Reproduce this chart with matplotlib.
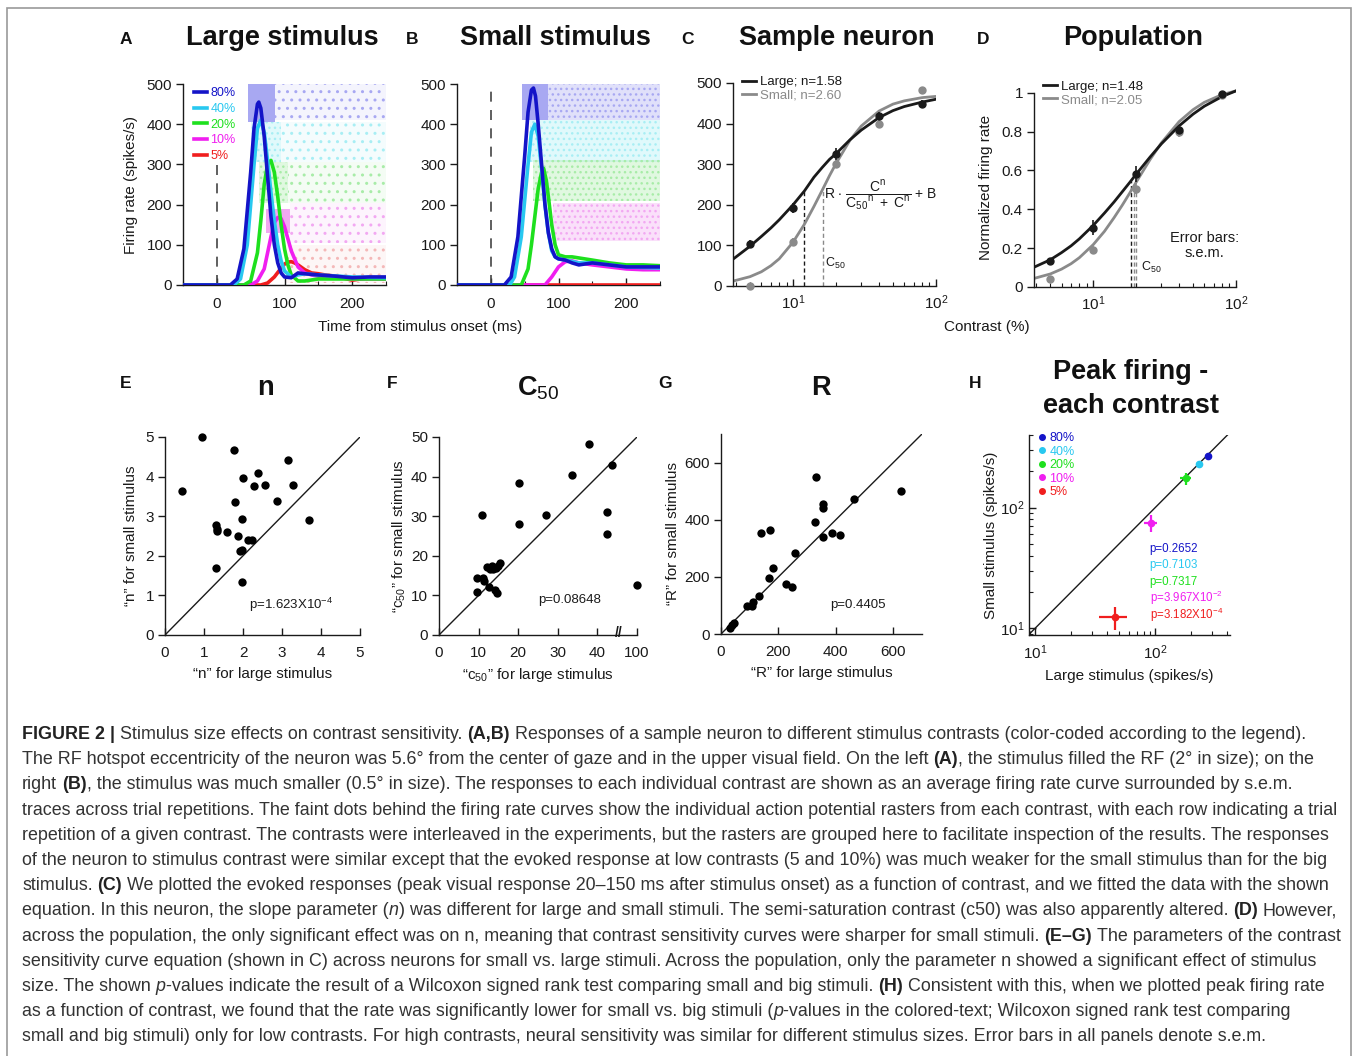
"""
Figure 2 recreation: stimulus size effects on contrast sensitivity.
Panels A-H plus the caption block underneath.
"""

import matplotlib
matplotlib.use("Agg")
import matplotlib.pyplot as plt
from matplotlib.lines import Line2D
from matplotlib.patches import Rectangle
from matplotlib.colors import to_rgba
from matplotlib.font_manager import FontProperties
from matplotlib.ticker import FixedLocator, NullFormatter, LogLocator

plt.rcParams["font.family"] = ["Liberation Sans", "DejaVu Sans"]
plt.rcParams["mathtext.fontset"] = "custom"
plt.rcParams["mathtext.rm"] = "Liberation Sans"
plt.rcParams["mathtext.it"] = "Liberation Sans:italic"
plt.rcParams["mathtext.bf"] = "Liberation Sans:bold"
plt.rcParams["hatch.linewidth"] = 1.0

W, H = 1358, 1056

# ---------------- data ----------------
CONTRAST_LABELS = ["80%", "40%", "20%", "10%", "5%"]
COLORS = ["#1414c8", "#28c8f0", "#1ee01e", "#f01ef0", "#f01e1e"]
RASTER_COLORS = ["#a8a8f2", "#a8eef4", "#a8eca8", "#f2a8f2", "#f4b8b8"]

# A: large stimulus, firing rate (spikes/s) vs time (ms)
LARGE_TIMES = [
    [-50, 20, 30, 40, 50, 55, 60, 62, 65, 70, 75, 80, 85, 90, 95, 100, 110, 120, 130, 150, 175, 200, 225, 250],
    [-50, 25, 35, 45, 55, 60, 65, 70, 75, 80, 85, 90, 95, 100, 110, 120, 130, 150, 200, 250],
    [-50, 40, 50, 60, 65, 70, 75, 80, 85, 90, 95, 100, 105, 110, 120, 130, 150, 200, 250],
    [-50, 50, 60, 70, 80, 85, 90, 95, 100, 105, 110, 120, 130, 140, 150, 175, 200, 250],
    [-50, 65, 75, 85, 95, 100, 105, 110, 115, 120, 130, 140, 150, 160, 175, 200, 225, 250],
]
LARGE_RATES = [
    [0, 0, 15, 90, 280, 390, 450, 455, 440, 370, 270, 170, 100, 55, 30, 20, 18, 30, 28, 25, 22, 18, 20, 20],
    [0, 0, 15, 100, 300, 390, 410, 380, 310, 230, 160, 100, 60, 35, 20, 25, 28, 25, 20, 18],
    [0, 0, 10, 80, 160, 250, 300, 310, 280, 220, 150, 90, 50, 25, 10, 10, 15, 15, 15],
    [0, 0, 10, 40, 120, 155, 168, 165, 145, 115, 85, 45, 30, 25, 22, 20, 15, 15],
    [0, 0, 5, 20, 42, 52, 57, 58, 55, 50, 38, 30, 28, 25, 22, 12, 18, 18],
]

# B: small stimulus
SMALL_TIMES = [
    [-50, 20, 30, 40, 50, 55, 60, 63, 66, 70, 75, 80, 85, 90, 95, 100, 110, 120, 130, 150, 175, 200, 225, 250],
    [-50, 28, 35, 45, 55, 60, 65, 70, 75, 80, 85, 90, 95, 100, 110, 130, 150, 175, 200, 250],
    [-50, 45, 55, 60, 65, 70, 75, 78, 82, 85, 90, 95, 100, 110, 120, 150, 175, 200, 225, 250],
    [-50, 80, 90, 100, 110, 120, 130, 150, 175, 200, 225, 250],
    [-50, 250],
]
SMALL_RATES = [
    [0, 0, 20, 120, 320, 430, 485, 490, 470, 400, 300, 200, 130, 90, 70, 65, 62, 55, 50, 55, 50, 45, 45, 45],
    [0, 0, 20, 120, 300, 380, 400, 370, 290, 200, 130, 85, 70, 65, 62, 55, 55, 50, 45, 42],
    [0, 0, 40, 100, 170, 240, 280, 290, 260, 220, 150, 100, 75, 70, 70, 62, 55, 50, 50, 48],
    [0, 0, 20, 45, 58, 60, 55, 50, 45, 40, 38, 38],
    [0, 0],
]

# raster bands: (contrast index, t start, t end, row low, row high, density)
LARGE_RASTER = [
    (0, 46, 86, 405, 500, "solid"), (0, 86, 250, 410, 500, "sparse"),
    (1, 50, 95, 305, 405, "dense"), (1, 95, 250, 305, 405, "sparse"),
    (2, 62, 105, 205, 305, "dense"), (2, 105, 250, 205, 305, "sparse"),
    (3, 72, 108, 130, 190, "solid"), (3, 108, 250, 105, 205, "sparse"),
    (4, 100, 250, 5, 100, "sparse"),
]
SMALL_RASTER = [
    (0, 46, 85, 410, 500, "solid"), (0, 85, 250, 410, 500, "dense"),
    (1, 58, 250, 305, 410, "dense"),
    (2, 63, 250, 210, 310, "dense"),
    (3, 92, 250, 110, 205, "dense"),
]

# C: sample neuron, peak response vs contrast
CONTRAST_PTS = [5, 10, 20, 40, 80]
C_LARGE_PTS = [104, 192, 325, 418, 449]
C_SMALL_PTS = [0, 109, 301, 400, 482]
C_LARGE_ERR = [10, 12, 14, 10, 10]
C_SMALL_ERR = [6, 8, 10, 10, 8]
FIT_X = [3.8, 5, 6, 7, 8, 10, 12, 14, 16, 18, 20, 25, 30, 40, 50, 60, 80, 100]
C_LARGE_FIT = [66, 98, 122, 143, 163, 200, 234, 268, 292, 312, 326, 360, 384, 415, 432, 442, 453, 460]
C_SMALL_FIT = [12, 23, 35, 50, 67, 108, 152, 196, 236, 272, 302, 359, 394, 431, 448, 456, 464, 467]
C_C50 = [12.0, 16.1]
C_C50_HEIGHT = [234, 236]

# D: population, normalized response
D_LARGE_PTS = [0.134, 0.306, 0.581, 0.81, 0.993]
D_SMALL_PTS = [0.043, 0.19, 0.507, 0.80, 0.99]
D_LARGE_ERR = [0.015, 0.04, 0.04, 0.02, 0.01]
D_SMALL_ERR = [0.015, 0.02, 0.03, 0.03, 0.01]
D_LARGE_FIT = [0.10, 0.14, 0.177, 0.212, 0.248, 0.317, 0.381, 0.438, 0.491, 0.538, 0.581, 0.669, 0.737,
               0.830, 0.890, 0.931, 0.981, 1.01]
D_SMALL_FIT = [0.043, 0.067, 0.092, 0.120, 0.151, 0.218, 0.287, 0.357, 0.422, 0.483, 0.540, 0.656, 0.742,
               0.852, 0.913, 0.951, 0.991, 1.01]
D_C50 = [18.4, 19.3, 20.0]
D_C50_HEIGHT = [0.547, 0.52, 0.52]

# E: n
E_LARGE = [0.43, 0.96, 1.77, 3.16, 2.39, 1.99, 2.28, 2.56, 3.29, 1.80, 2.86, 3.68, 1.98, 1.31, 1.33,
           1.34, 1.60, 1.88, 2.13, 2.24, 1.93, 1.98, 1.30, 1.98]
E_SMALL = [3.63, 5.0, 4.66, 4.43, 4.10, 3.97, 3.77, 3.79, 3.79, 3.36, 3.39, 2.90, 2.92, 2.78, 2.68,
           2.62, 2.60, 2.50, 2.40, 2.41, 2.13, 2.14, 1.70, 1.33]

# F: c50 (the 100 value sits past the axis break)
F_LARGE = [9.5, 9.5, 11.2, 11.3, 10.8, 12.2, 12.9, 13.3, 13.7, 14.4, 15.3, 15.0, 12.7, 14.2, 14.6,
           20.3, 20.3, 26.9, 33.5, 37.9, 43.6, 42.5, 42.5, 100]
F_SMALL = [10.8, 14.5, 14.3, 13.7, 30.2, 17.1, 16.6, 17.3, 16.6, 16.9, 18.3, 17.5, 12.2, 11.4, 10.5,
           38.4, 28.1, 30.4, 40.3, 48.3, 43.0, 31.1, 25.5, 12.6]
F_TICKS = [0, 10, 20, 30, 40, 100]

# G: R
G_LARGE = [33, 38, 45, 92, 107, 113, 133, 140, 171, 167, 182, 225, 246, 257, 328, 330, 355, 355, 355,
           388, 413, 463, 627]
G_SMALL = [22, 30, 38, 97, 99, 112, 134, 352, 364, 195, 230, 176, 164, 285, 393, 548, 455, 440, 341,
           352, 347, 472, 500]

# H: peak firing per contrast
H_LARGE = [275, 232, 180, 92, 46]
H_SMALL = [268, 232, 175, 75, 12.3]
H_XERR = [15, 12, 18, 12, 12]
H_YERR = [15, 12, 20, 12, 2.7]
H_PVALS = ["p=0.2652", "p=0.7103", "p=0.7317", "p=3.967X10$^{-2}$", "p=3.182X10$^{-4}$"]

CAPTION = [
    [("FIGURE 2 |", "b"), (" Stimulus size effects on contrast sensitivity. ", "r"), ("(A,B)", "b"),
     (" Responses of a sample neuron to different stimulus contrasts (color-coded according to the legend).", "r")],
    [("The RF hotspot eccentricity of the neuron was 5.6° from the center of gaze and in the upper visual field. On the left ", "r"),
     ("(A)", "b"), (", the stimulus filled the RF (2° in size); on the", "r")],
    [("right ", "r"), ("(B)", "b"),
     (", the stimulus was much smaller (0.5° in size). The responses to each individual contrast are shown as an average firing rate curve surrounded by s.e.m.", "r")],
    [("traces across trial repetitions. The faint dots behind the firing rate curves show the individual action potential rasters from each contrast, with each row indicating a trial", "r")],
    [("repetition of a given contrast. The contrasts were interleaved in the experiments, but the rasters are grouped here to facilitate inspection of the results. The responses", "r")],
    [("of the neuron to stimulus contrast were similar except that the evoked response at low contrasts (5 and 10%) was much weaker for the small stimulus than for the big", "r")],
    [("stimulus. ", "r"), ("(C)", "b"),
     (" We plotted the evoked responses (peak visual response 20–150 ms after stimulus onset) as a function of contrast, and we fitted the data with the shown", "r")],
    [("equation. In this neuron, the slope parameter (", "r"), ("n", "i"),
     (") was different for large and small stimuli. The semi-saturation contrast (c50) was also apparently altered. ", "r"),
     ("(D)", "b"), (" However,", "r")],
    [("across the population, the only significant effect was on n, meaning that contrast sensitivity curves were sharper for small stimuli. ", "r"),
     ("(E–G)", "b"), (" The parameters of the contrast", "r")],
    [("sensitivity curve equation (shown in C) across neurons for small vs. large stimuli. Across the population, only the parameter n showed a significant effect of stimulus", "r")],
    [("size. The shown ", "r"), ("p", "i"),
     ("-values indicate the result of a Wilcoxon signed rank test comparing small and big stimuli. ", "r"),
     ("(H)", "b"), (" Consistent with this, when we plotted peak firing rate", "r")],
    [("as a function of contrast, we found that the rate was significantly lower for small vs. big stimuli (", "r"),
     ("p", "i"), ("-values in the colored-text; Wilcoxon signed rank test comparing", "r")],
    [("small and big stimuli) only for low contrasts. For high contrasts, neural sensitivity was similar for different stimulus sizes. Error bars in all panels denote s.e.m.", "r")],
]

INK = "#1a1a1a"
GRAY = "#8a8a8a"
TICK_SIZE = 11


def add_axes_px(fig, x0, x1, y0, y1):
    return fig.add_axes([x0 / W, 1 - y1 / H, (x1 - x0) / W, (y1 - y0) / H])


def style_axes(ax, xdir="in", ydir="out"):
    for side in ["top", "right"]:
        ax.spines[side].set_visible(False)
    for side in ["left", "bottom"]:
        ax.spines[side].set_color(INK)
        ax.spines[side].set_linewidth(1.0)
    ax.set_facecolor("none")
    ax.tick_params(axis="x", which="both", direction=xdir, labelsize=TICK_SIZE, colors=INK, pad=8)
    ax.tick_params(axis="y", which="both", direction=ydir, labelsize=TICK_SIZE, colors=INK, pad=3)
    ax.tick_params(which="major", length=5, width=1)
    ax.tick_params(which="minor", length=3, width=0.8)


def draw_raster(ax, bands):
    for ci, t0, t1, y0, y1, kind in bands:
        c = RASTER_COLORS[ci]
        if kind == "solid":
            patch = Rectangle((t0, y0), t1 - t0, y1 - y0, facecolor=c, edgecolor="none", zorder=1)
        elif kind == "dense":
            patch = Rectangle((t0, y0), t1 - t0, y1 - y0, facecolor=to_rgba(c, 0.35),
                              edgecolor=c, hatch="...", linewidth=0, zorder=1)
        else:
            patch = Rectangle((t0, y0), t1 - t0, y1 - y0, facecolor=to_rgba(c, 0.12),
                              edgecolor=c, hatch="..", linewidth=0, zorder=1)
        ax.add_patch(patch)


def firing_panel(ax, times, rates, raster, show_legend):
    draw_raster(ax, raster)
    ax.axvline(0, color="#444444", lw=1.2, ls=(0, (6, 5)), zorder=2)
    for i in reversed(range(len(times))):
        ax.plot(times[i], rates[i], color=COLORS[i], lw=2.6, zorder=3, solid_joinstyle="round")
    ax.set_xlim(-50, 250)
    ax.set_ylim(0, 500)
    ax.set_xticks([0, 100, 200])
    ax.xaxis.set_minor_locator(FixedLocator([-50, 50, 150, 250]))
    ax.set_yticks([0, 100, 200, 300, 400, 500])
    style_axes(ax)
    ax.tick_params(axis="x", pad=9)
    if show_legend:
        handles = [Line2D([], [], color=c, lw=2.6) for c in COLORS]
        leg = ax.legend(handles, CONTRAST_LABELS, loc="upper left", bbox_to_anchor=(0.04, 1.0),
                        fontsize=9, handlelength=1.0, handletextpad=0.3, labelspacing=0.3,
                        borderpad=0.25, borderaxespad=0, frameon=True, framealpha=1)
        leg.get_frame().set_edgecolor("none")
        leg.get_frame().set_facecolor("white")
        for txt, c in zip(leg.get_texts(), COLORS):
            txt.set_color(c)


def contrast_panel(ax, large_pts, small_pts, large_err, small_err, large_fit, small_fit,
                   c50s, c50_heights, labels, ylim):
    ax.set_xscale("log")
    ax.plot(FIT_X, small_fit, color=GRAY, lw=2, zorder=2)
    ax.plot(FIT_X, large_fit, color=INK, lw=2, zorder=3)
    ax.errorbar(CONTRAST_PTS, small_pts, yerr=small_err, fmt="o", ms=5, color=GRAY,
                elinewidth=1.2, capsize=0, zorder=4, clip_on=False)
    ax.errorbar(CONTRAST_PTS, large_pts, yerr=large_err, fmt="o", ms=5, color=INK,
                elinewidth=1.2, capsize=0, zorder=5, clip_on=False)
    dash_colors = [INK] + [GRAY] * (len(c50s) - 1)
    for x, h, c in zip(c50s, c50_heights, dash_colors):
        ax.plot([x, x], [0, h], color=c, lw=1.0, ls=(0, (3, 2)), zorder=1)
    handles = [Line2D([], [], color=INK, lw=2), Line2D([], [], color=GRAY, lw=2)]
    leg = ax.legend(handles, labels, loc="upper left", bbox_to_anchor=(0.04, 1.04), fontsize=9.5,
                    handlelength=1.0, handletextpad=0.3, labelspacing=0.1, borderpad=0.1,
                    borderaxespad=0, frameon=False)
    for txt, c in zip(leg.get_texts(), [INK, GRAY]):
        txt.set_color(c)
    ax.set_ylim(*ylim)
    ax.xaxis.set_major_locator(FixedLocator([10, 100]))
    ax.xaxis.set_minor_locator(LogLocator(base=10, subs=range(2, 10)))
    ax.xaxis.set_minor_formatter(NullFormatter())
    ax.set_xticklabels(["10$^1$", "10$^2$"])
    style_axes(ax)
    ax.tick_params(axis="x", pad=5)


def scatter_panel(ax, xs, ys, lim, ticks):
    ax.plot([0, lim], [0, lim], color=INK, lw=1.0, zorder=1)
    ax.scatter(xs, ys, s=36, color="black", zorder=3, clip_on=False, linewidths=0)
    ax.set_xlim(0, lim)
    ax.set_ylim(0, lim)
    ax.set_xticks(ticks)
    ax.set_yticks(ticks)
    style_axes(ax)


def draw_caption(fig, lines, x0, y0, step, target_width):
    renderer = fig.canvas.get_renderer()

    def props(style, size):
        return FontProperties(family="Liberation Sans", size=size,
                              weight="bold" if style == "b" else "normal",
                              style="italic" if style == "i" else "normal")

    def advance(s, prop):
        w1 = renderer.get_text_width_height_descent("x" + s + "x", prop, ismath=False)[0]
        w0 = renderer.get_text_width_height_descent("xx", prop, ismath=False)[0]
        return w1 - w0

    ref = sum(advance(s, props(st, 10)) for s, st in lines[0])
    size = 10 * target_width / ref
    for i, parts in enumerate(lines):
        x = x0
        y = y0 + i * step
        for s, st in parts:
            prop = props(st, size)
            lead = len(s) - len(s.lstrip(" "))
            xd = x + (advance(s[:lead], prop) if lead else 0)
            fig.text(xd / W, 1 - y / H, s.strip(" "), fontproperties=prop,
                     color="#222222" if st == "b" else "#333333", ha="left", va="baseline")
            x += advance(s, prop)


def main():
    fig = plt.figure(figsize=(W / 100, H / 100), dpi=100)
    fig.patch.set_facecolor("white")
    fig.add_artist(Rectangle((7 / W, -0.01), (1351 - 7) / W, 1.01 - 8 / H, transform=fig.transFigure,
                             fill=False, edgecolor="#999999", lw=1.2))

    # ---- row 1 ----
    ax_a = add_axes_px(fig, 183, 386, 84, 285)
    firing_panel(ax_a, LARGE_TIMES, LARGE_RATES, LARGE_RASTER, True)
    ax_a.set_ylabel("Firing rate (spikes/s)", fontsize=11, color=INK, labelpad=6)

    ax_b = add_axes_px(fig, 457, 660, 84, 285)
    firing_panel(ax_b, SMALL_TIMES, SMALL_RATES, SMALL_RASTER, False)

    fig.text(420 / W, 1 - 327 / H, "Time from stimulus onset (ms)", fontsize=11, color=INK,
             ha="center", va="center")

    ax_c = add_axes_px(fig, 733, 936, 83, 286)
    contrast_panel(ax_c, C_LARGE_PTS, C_SMALL_PTS, C_LARGE_ERR, C_SMALL_ERR, C_LARGE_FIT, C_SMALL_FIT,
                   C_C50, C_C50_HEIGHT, ["Large; n=1.58", "Small; n=2.60"], (0, 500))
    ax_c.set_xlim(3.8, 100)
    ax_c.set_yticks([0, 100, 200, 300, 400, 500])
    ax_c.text(41, 224,
              r"R $\bullet$ $\dfrac{\mathrm{C}^{\mathrm{n}}}{\mathrm{C}_{50}{}^{\mathrm{n}}\ +\ \mathrm{C}^{\mathrm{n}}}$ + B",
              fontsize=10, color=INK, ha="center", va="center")
    ax_c.text(16.8, 55, "C$_{50}$", fontsize=9, color=INK, ha="left", va="center")

    ax_d = add_axes_px(fig, 1034, 1236, 87, 287)
    contrast_panel(ax_d, D_LARGE_PTS, D_SMALL_PTS, D_LARGE_ERR, D_SMALL_ERR, D_LARGE_FIT, D_SMALL_FIT,
                   D_C50, D_C50_HEIGHT, ["Large; n=1.48", "Small; n=2.05"], (0, 1.03))
    ax_d.set_xlim(3.85, 100)
    ax_d.set_yticks([0, 0.2, 0.4, 0.6, 0.8, 1])
    ax_d.set_yticklabels(["0", "0.2", "0.4", "0.6", "0.8", "1"])
    ax_d.spines["left"].set_bounds(0, 1)
    ax_d.set_ylabel("Normalized firing rate", fontsize=11, color=INK, labelpad=6)
    ax_d.text(21.5, 0.1, "C$_{50}$", fontsize=9, color=INK, ha="left", va="center")
    ax_d.text(60, 0.215, "Error bars:\ns.e.m.", fontsize=10.5, color=INK, ha="center", va="center",
              linespacing=1.05)

    fig.text(987 / W, 1 - 327 / H, "Contrast (%)", fontsize=11, color=INK, ha="center", va="center")

    # ---- row 2 ----
    ax_e = add_axes_px(fig, 165, 360, 437, 635)
    scatter_panel(ax_e, E_LARGE, E_SMALL, 5, [0, 1, 2, 3, 4, 5])
    ax_e.set_xlabel("\u201cn\u201d for large stimulus", fontsize=11, color=INK, labelpad=5)
    ax_e.set_ylabel("\u201cn\u201d for small stimulus", fontsize=11, color=INK, labelpad=5)
    ax_e.text(2.15, 0.75, "p=1.623X10$^{-4}$", fontsize=9.5, color=INK, ha="left", va="center")

    ax_f = add_axes_px(fig, 439, 637, 437, 635)
    f_pos = [x if x <= 45 else 50 for x in F_LARGE]
    f_tick_pos = [t if t <= 45 else 50 for t in F_TICKS]
    scatter_panel(ax_f, f_pos, F_SMALL, 50, [0, 10, 20, 30, 40, 50])
    ax_f.set_xticks(f_tick_pos)
    ax_f.set_xticklabels([str(t) for t in F_TICKS])
    ax_f.text(45.5, 0.6, "//", fontsize=10, fontweight="bold", color=INK, ha="center", va="center",
              clip_on=False)
    ax_f.set_xlabel("\u201cc$_{50}$\u201d for large stimulus", fontsize=11, color=INK, labelpad=4)
    ax_f.set_ylabel("\u201cc$_{50}$\u201d for small stimulus", fontsize=11, color=INK, labelpad=2)
    ax_f.text(25, 8.8, "p=0.08648", fontsize=9.5, color=INK, ha="left", va="center")

    ax_g = add_axes_px(fig, 721, 922, 434, 634)
    scatter_panel(ax_g, G_LARGE, G_SMALL, 700, [0, 200, 400, 600])
    ax_g.set_xlabel("\u201cR\u201d for large stimulus", fontsize=11, color=INK, labelpad=5)
    ax_g.set_ylabel("\u201cR\u201d for small stimulus", fontsize=11, color=INK, labelpad=3)
    ax_g.text(380, 100, "p=0.4405", fontsize=9.5, color=INK, ha="left", va="center")

    ax_h = add_axes_px(fig, 1029, 1230, 435, 635)
    ax_h.set_xscale("log")
    ax_h.set_yscale("log")
    lim_h = (8.9, 420)
    ax_h.plot(lim_h, lim_h, color=INK, lw=1.0, zorder=1)
    for i in range(len(H_LARGE)):
        ax_h.errorbar(H_LARGE[i], H_SMALL[i], xerr=H_XERR[i], yerr=H_YERR[i], fmt="o", ms=4.5,
                      color=COLORS[i], elinewidth=1.6, capsize=0, zorder=3)
    ax_h.set_xlim(*lim_h)
    ax_h.set_ylim(8.8, 400)
    for axis in [ax_h.xaxis, ax_h.yaxis]:
        axis.set_major_locator(FixedLocator([10, 100]))
        axis.set_minor_locator(LogLocator(base=10, subs=range(2, 10)))
        axis.set_minor_formatter(NullFormatter())
    ax_h.set_xticklabels(["10$^1$", "10$^2$"])
    ax_h.set_yticklabels(["10$^1$", "10$^2$"])
    style_axes(ax_h, xdir="in", ydir="in")
    ax_h.tick_params(axis="x", pad=6)
    handles = [Line2D([], [], ls="none", marker="o", ms=4, color=c) for c in COLORS]
    leg = ax_h.legend(handles, CONTRAST_LABELS, loc="upper left", bbox_to_anchor=(0.04, 1.02),
                      fontsize=9, handlelength=0.6, handletextpad=0.3, labelspacing=0.12,
                      borderpad=0.1, borderaxespad=0, frameon=False)
    for txt, c in zip(leg.get_texts(), COLORS):
        txt.set_color(c)
    for i, (p, c) in enumerate(zip(H_PVALS, COLORS)):
        ax_h.text(0.6, 0.43 - i * 0.082, p, transform=ax_h.transAxes, fontsize=8.3, color=c,
                  ha="left", va="center")
    ax_h.set_xlabel("Large stimulus (spikes/s)", fontsize=11, color=INK, labelpad=5)
    ax_h.set_ylabel("Small stimulus (spikes/s)", fontsize=11, color=INK, labelpad=2)

    # ---- titles and panel letters ----
    titles = [("Large stimulus", 282, 38), ("Small stimulus", 555, 38), ("Sample neuron", 837, 38),
              ("Population", 1133, 38), ("n", 265, 388), ("C$_{50}$", 538, 388), ("R", 821, 388),
              ("Peak firing -", 1131, 372), ("each contrast", 1131, 406)]
    for text, x, y in titles:
        fig.text(x / W, 1 - y / H, text, fontsize=19.5, fontweight="bold", color="#111111",
                 ha="center", va="center")
    letters = [("A", 126, 40), ("B", 412, 40), ("C", 687, 40), ("D", 983, 40),
               ("E", 126, 383), ("F", 392, 383), ("G", 665, 383), ("H", 975, 383)]
    for text, x, y in letters:
        fig.text(x / W, 1 - y / H, text, fontsize=12.5, fontweight="bold", color="#111111",
                 ha="center", va="center")

    draw_caption(fig, CAPTION, 22, 739, 25.2, 1289)

    fig.savefig("out.png", dpi=100, facecolor="white")
    plt.close(fig)


if __name__ == "__main__":
    main()
